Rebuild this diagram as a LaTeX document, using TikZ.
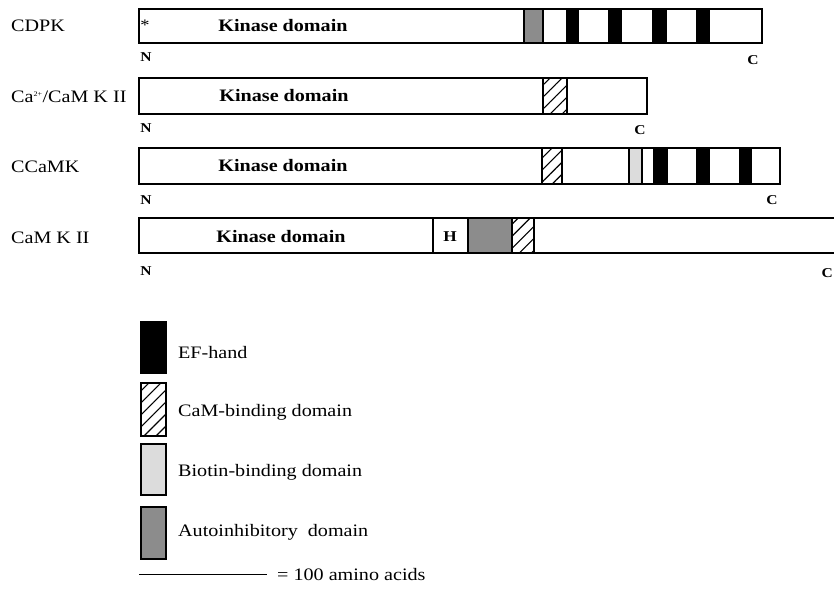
\documentclass[tikz,border=0pt]{standalone}
\usepackage{fontspec}
\setmainfont{Liberation Serif}[FakeStretch=1.15]
\usetikzlibrary{patterns.meta}

\definecolor{autogray}{HTML}{8C8C8C}
\definecolor{biotingray}{HTML}{DCDCDC}

\begin{document}
\begin{tikzpicture}[
    x=1pt, y=-1pt,
    every node/.style={font=\fontsize{17.5}{20}\selectfont, inner sep=0pt},
    protein/.style={draw=black, line width=1.7pt, fill=white},
    domainbox/.style={draw=black, line width=1.4pt},
    efhand/.style={domainbox, fill=black},
    cambind/.style={domainbox, pattern={Lines[angle=45, distance=8.5pt, line width=1.1pt]}},
    biotin/.style={domainbox, fill=biotingray},
    autoinh/.style={domainbox, fill=autogray},
    kinase/.style={font=\fontsize{17.5}{20}\selectfont\bfseries},
    term/.style={font=\fontsize{13.5}{15}\selectfont\bfseries},
    protname/.style={anchor=west},
    legendtext/.style={anchor=west}
]
\path[use as bounding box] (0,0) rectangle (834,592);
\clip (0,0) rectangle (834,592);

% CDPK
\draw[protein] (139,9) rectangle (762,43);
\draw[autoinh] (524,9) rectangle (543,43);
\draw[efhand] (567,9) rectangle (578,43);
\draw[efhand] (609,9) rectangle (621,43);
\draw[efhand] (653,9) rectangle (666,43);
\draw[efhand] (697,9) rectangle (709,43);
\node (cdpk) [protname] at (11,26) {CDPK};
\node (cdpkstar) [font=\fontsize{16}{18}\selectfont] at (145,25) {*};
\node (cdpkkin) [kinase] at (283,26) {Kinase domain};
\node (cdpkn) [term] at (146,57) {N};
\node (cdpkc) [term] at (753,60) {C};

% Ca2+/CaM K II
\draw[protein] (139,78) rectangle (647,114);
\draw[cambind] (543,78) rectangle (567,114);
\node (camk) [protname] at (11,97) {Ca\textsuperscript{\fontsize{7}{8}\selectfont 2+}/CaM K II};
\node (camkkin) [kinase] at (284,96) {Kinase domain};
\node (camkn) [term] at (146,128) {N};
\node (camkc) [term] at (640,130) {C};

% CCaMK
\draw[protein] (139,148) rectangle (780,184);
\draw[cambind] (542,148) rectangle (562,184);
\draw[biotin] (629,148) rectangle (642,184);
\draw[efhand] (654,148) rectangle (667,184);
\draw[efhand] (697,148) rectangle (709,184);
\draw[efhand] (740,148) rectangle (751,184);
\node (ccamk) [protname] at (11,167) {CCaMK};
\node (ccamkkin) [kinase] at (283,166) {Kinase domain};
\node (ccamkn) [term] at (146,200) {N};
\node (ccamkc) [term] at (772,200) {C};

% CaM K II
\draw[protein] (139,218) rectangle (850,253);
\draw[domainbox] (433,218) rectangle (468,253);
\draw[autoinh] (468,218) rectangle (512,253);
\draw[cambind] (512,218) rectangle (534,253);
\node (camkii) [protname] at (11,238) {CaM K II};
\node (camkiikin) [kinase] at (281,237) {Kinase domain};
\node (camkiih) [font=\fontsize{15}{17}\selectfont\bfseries] at (450,237) {H};
\node (camkiin) [term] at (146,271) {N};
\node (camkiic) [term, anchor=east] at (833,273) {C};

% legend
\draw[efhand] (141,322) rectangle (166,373);
\draw[cambind] (141,383) rectangle (166,436);
\draw[biotin] (141,444) rectangle (166,495);
\draw[autoinh] (141,507) rectangle (166,559);
\node (efl) [legendtext] at (178,353) {EF-hand};
\node (caml) [legendtext] at (178,412) {CaM-binding domain};
\node (biol) [legendtext] at (178,472) {Biotin-binding domain};
\node (autol) [legendtext] at (178,532) {Autoinhibitory\ \ domain};

\coordinate (scalea) at (139,574);
\coordinate (scaleb) at (267,574);
\draw[line width=0.8pt] (scalea) -- (scaleb);
\node (scalel) [legendtext] at (277,575) {= 100 amino acids};
\end{tikzpicture}
\end{document}
